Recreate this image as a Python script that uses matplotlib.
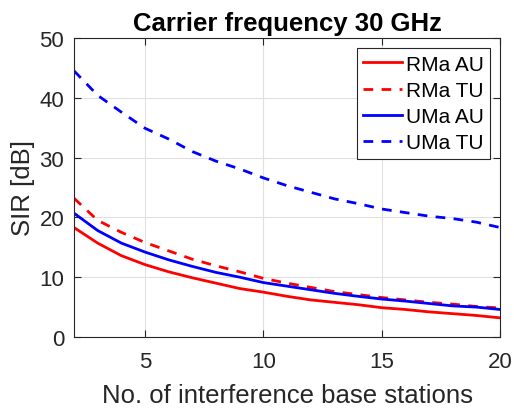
import matplotlib
matplotlib.use("Agg")
import matplotlib.pyplot as plt

x = list(range(2, 21))
rma_au = [18.3, 15.7, 13.6, 12.1, 10.9, 9.9, 9.0, 8.1, 7.5, 6.8, 6.2, 5.8, 5.4, 4.9, 4.6, 4.2, 3.9, 3.6, 3.2]
rma_tu = [23.2, 19.5, 17.5, 15.8, 14.4, 13.0, 11.9, 10.9, 9.8, 9.0, 8.3, 7.6, 7.1, 6.6, 6.2, 5.8, 5.5, 5.1, 4.85]
uma_au = [20.7, 17.8, 15.7, 14.2, 12.9, 11.8, 10.8, 10.0, 9.1, 8.5, 7.9, 7.3, 6.8, 6.35, 6.0, 5.6, 5.2, 5.0, 4.6]
uma_tu = [44.5, 40.4, 37.6, 34.9, 33.1, 31.0, 29.4, 28.1, 26.6, 25.3, 24.2, 23.1, 22.3, 21.4, 20.8, 20.2, 19.8, 19.2, 18.3]
labels = ["RMa AU", "RMa TU", "UMa AU", "UMa TU"]
xticks = [5, 10, 15, 20]
yticks = [0, 10, 20, 30, 40, 50]

plt.rcParams['font.family'] = ['Liberation Sans', 'DejaVu Sans']
fig = plt.figure(figsize=(5.14, 4.10), dpi=100)
ax = fig.add_axes([0.144, 0.1756, 0.829, 0.7294])

dash = (0, (3.5, 3.0))
ax.plot(x, rma_au, color='red', lw=2, ls='-', label=labels[0])
ax.plot(x, rma_tu, color='red', lw=2, ls=dash, label=labels[1])
ax.plot(x, uma_au, color='blue', lw=2, ls='-', label=labels[2])
ax.plot(x, uma_tu, color='blue', lw=2, ls=dash, label=labels[3])

ax.set_xlim(2, 20)
ax.set_ylim(0, 50)
ax.set_xticks(xticks)
ax.set_yticks(yticks)
ax.grid(True, color='#e0e0e0', lw=0.8)
ax.set_axisbelow(True)
ax.tick_params(direction='in', top=True, right=True, labelsize=16, colors='#262626',
               length=5, width=0.8)
ax.tick_params(axis='x', pad=10)
ax.tick_params(axis='y', pad=7)
for s in ax.spines.values():
    s.set_color('#262626')
    s.set_linewidth(0.8)

ax.set_xlabel("No. of interference base stations", fontsize=18.5, color='#262626', labelpad=8)
ax.set_ylabel("SIR [dB]", fontsize=18.5, color='#262626', labelpad=3)
ax.set_title("Carrier frequency 30 GHz", fontsize=18.5, fontweight='bold', pad=6)

leg = ax.legend(loc='upper right', fontsize=15, fancybox=False, framealpha=1,
                edgecolor='#262626', handlelength=1.9, borderaxespad=0.5,
                labelspacing=0.35, handletextpad=0.15, borderpad=0.3)
leg.get_frame().set_linewidth(0.8)

fig.savefig("out.png", dpi=100)
